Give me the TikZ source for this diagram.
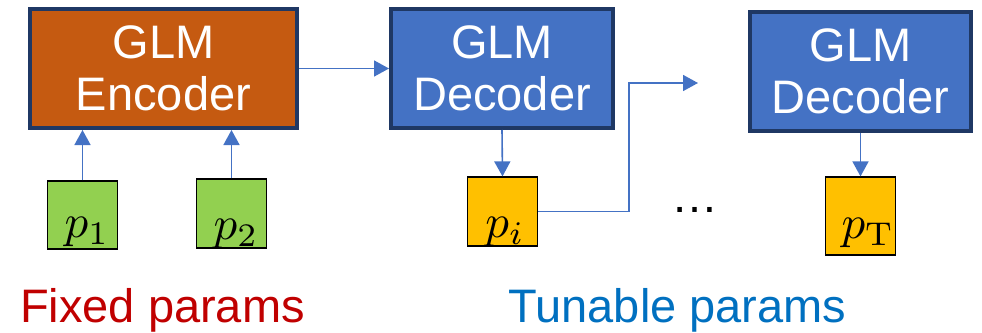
\documentclass[tikz,border=0pt]{standalone}
\usepackage[no-math]{fontspec}
\setmainfont{Liberation Sans}
\usetikzlibrary{arrows.meta}

\definecolor{encorange}{HTML}{C55A11}
\definecolor{decblue}{HTML}{4472C4}
\definecolor{navy}{HTML}{1F3864}
\definecolor{fixgreen}{HTML}{92D050}
\definecolor{tungold}{HTML}{FFC000}
\definecolor{fixred}{HTML}{C00000}
\definecolor{tunblue}{HTML}{0070C0}

\begin{document}
\begin{tikzpicture}[x=1pt,y=-1pt]

\tikzstyle{glmblock} = [rectangle, draw=navy, line width=4pt, text=white, align=center, inner sep=0pt, font=\fsize]
\tikzstyle{parblock} = [rectangle, draw=black, line width=1.2pt, minimum width=70pt, inner sep=0pt]
\tikzstyle{link} = [draw=decblue, line width=1.6pt, -{Triangle[width=16pt,length=15pt]}]
\tikzstyle{partext} = [anchor=base, inner sep=0pt]

\def \fsize{\fontsize{47}{52}\selectfont}
\def \parsym#1{\scalebox{4.7}{$#1$}}

\useasboundingbox (0,0) rectangle (982,332);

%GLM blocks
\node[glmblock, fill=encorange, minimum width=267pt, minimum height=119pt](enc) at (163.5,68.5){GLM\\Encoder};
\node[glmblock, fill=decblue, minimum width=222pt, minimum height=119pt](dec1) at (502,68.5){GLM\\Decoder};
\node[glmblock, fill=decblue, minimum width=221pt, minimum height=119pt](decT) at (860.5,71.5){GLM\\Decoder};

%Parameter blocks
\node[parblock, fill=fixgreen, minimum height=68pt](p1) at (82.5,215){};
\node[parblock, fill=fixgreen, minimum height=69pt](p2) at (231.5,213.5){};
\node[parblock, fill=tungold, minimum height=69pt](pi) at (502.5,211.5){};
\node[parblock, fill=tungold, minimum height=78pt](pT) at (860.5,216){};

\node[partext](p1txt) at (87,237){\parsym{p_1}};
\node[partext](p2txt) at (236,239){\parsym{p_2}};
\node[partext](pitxt) at (505,237){\parsym{p_i}};
\node[partext](pTtxt) at (868,238){\parsym{p_{\mathrm{T}}}};

%Inputs to the encoder
\draw[link] (p1.north) -- (p1.north |- enc.south);
\draw[link] (p2.north) -- (p2.north |- enc.south);

%Encoder to decoder
\draw[link] (enc.east) -- (dec1.west);

%Decoders to outputs
\draw[link] (dec1.south) -- (pi.north);
\draw[link] (decT.south) -- (pT.north);

%Output fed to next step
\coordinate (bend) at (629,83);
\coordinate (nxt) at (698,83);
\draw[link] (pi.east) -| (bend) -- (nxt);

\node[anchor=base, font=\fsize](dots) at (695,212){\dots};

%Labels
\node[anchor=base, font=\fsize, text=fixred](fixlbl) at (162.5,322){Fixed params};
\node[anchor=base, font=\fsize, text=tunblue](tunlbl) at (677.5,322){Tunable params};

\end{tikzpicture}
\end{document}
